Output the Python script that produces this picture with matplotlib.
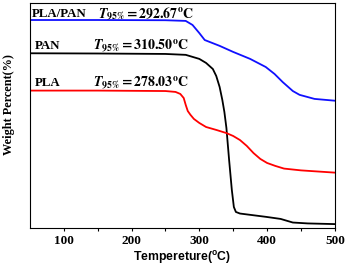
import numpy as np
import matplotlib.pyplot as plt

plt.rcParams['mathtext.fontset'] = 'stix'

# temperature (C) and relative weight (arbitrary offset units)
t_blend = [50, 150, 250, 280, 290, 300, 308, 330, 350, 375, 398, 411, 423, 438, 448, 470, 500]
w_blend = [92.4, 92.4, 92.3, 92.0, 90.2, 86.6, 83.5, 80.9, 78.2, 75.1, 71.5, 68.4, 64.8, 60.8, 59.1, 57.3, 56.5]

t_pan = [50, 150, 250, 280, 300, 310, 320, 325, 330, 334, 337, 340, 344, 348, 351, 354, 360,
         399, 420, 438, 460, 500]
w_pan = [77.6, 77.5, 77.3, 76.9, 75.1, 73.3, 70.6, 67.5, 62.6, 56.8, 51.5, 44.4, 30.1, 16.8, 9.2, 7.0, 6.3,
         4.8, 3.9, 2.3, 1.9, 1.6]

t_pla = [50, 150, 250, 265, 272, 277, 280, 283, 287, 292, 300, 310, 325, 340, 350, 360, 370, 380,
         390, 400, 412, 425, 450, 475, 500]
w_pla = [61.0, 61.0, 60.8, 60.4, 59.5, 57.7, 54.6, 51.9, 50.2, 48.4, 46.6, 44.8, 43.5, 42.1, 40.8, 39.0,
         36.4, 33.2, 30.6, 28.8, 27.5, 26.3, 25.5, 25.0, 24.5]

names = ['PLA/PAN', 'PAN', 'PLA']
t95 = ['292.67', '310.50', '278.03']

fig = plt.figure(figsize=(3.47, 2.66), dpi=100)
ax = fig.add_axes([0.086, 0.144, 0.879, 0.845])

ax.plot(t_blend, w_blend, color='#1010ff', lw=1.3)
ax.plot(t_pan, w_pan, color='black', lw=1.3)
ax.plot(t_pla, w_pla, color='#ff0000', lw=1.3)

ax.set_xlim(50, 500)
ax.set_ylim(0, 100)
ax.set_yticks([])
ax.set_xticks([100, 200, 300, 400, 500])
ax.set_xticks([150, 250, 350, 450], minor=True)
ax.tick_params(axis='x', which='both', direction='out', length=2.5, width=0.8, pad=3)
for lab in ax.get_xticklabels():
    lab.set_fontfamily('Liberation Serif')
    lab.set_fontweight('bold')
    lab.set_fontsize(9.5)

ax.set_xlabel('Tempereture($\\mathregular{^o}$C)', fontfamily='Liberation Sans', fontweight='bold',
              fontsize=8.8, labelpad=1)
ax.set_ylabel('Weight Percent(%)', fontfamily='Liberation Serif', fontweight='bold', fontsize=8.8)
ax.yaxis.set_label_coords(-0.05, 0.55)

name_y = [95.0, 81.0, 64.5]
for name, val, yy in zip(names, t95, name_y):
    ax.text(0.008 if name == 'PLA/PAN' else 0.015, yy, name, transform=ax.get_yaxis_transform(),
            fontfamily='Liberation Serif', fontweight='bold', fontsize=9.3, va='center')
    ax.text(0.222 if name == 'PLA/PAN' else 0.208, yy,
            r'$\mathbfit{T}_{\mathbf{95\%}}\mathbf{=' + val + r'^{o}C}$',
            transform=ax.get_yaxis_transform(), fontsize=10, va='center')

fig.savefig('out.png', dpi=100)
